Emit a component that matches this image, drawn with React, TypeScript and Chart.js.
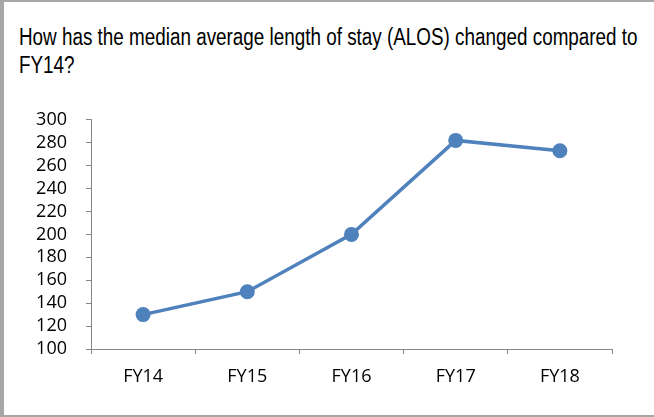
import React, { useEffect, useRef } from "react";
import { Chart, registerables } from "chart.js";

Chart.register(...registerables);

const title = ["How has the median average length of stay (ALOS) changed compared to", "FY14?"];
const categories = ["FY14", "FY15", "FY16", "FY17", "FY18"];
const alosValues = [130, 150, 200, 282, 273];
const yMin = 100;
const yMax = 300;
const yStep = 20;

export default function App() {
  const ref = useRef<HTMLCanvasElement | null>(null);

  useEffect(() => {
    document.body.style.margin = "0";
    if (!ref.current) return;
    const chart = new Chart(ref.current, {
      type: "line",
      data: {
        labels: categories,
        datasets: [
          {
            data: alosValues,
            borderColor: "#4f81bd",
            backgroundColor: "#4f81bd",
            borderWidth: 3.5,
            pointRadius: 7.5,
            pointHoverRadius: 7.5,
            pointBackgroundColor: "#4f81bd",
            pointBorderColor: "#4f81bd",
            pointBorderWidth: 0,
            tension: 0,
          },
        ],
      },
      options: {
        animation: false,
        responsive: false,
        maintainAspectRatio: false,
        layout: { padding: { top: 0, right: 28, left: 0, bottom: 0 } },
        plugins: { legend: { display: false }, tooltip: { enabled: false }, title: { display: false } },
        scales: {
          x: {
            type: "category",
            offset: true,
            grid: {
              offset: true,
              drawOnChartArea: false,
              drawTicks: true,
              tickLength: 5,
              color: "#868686",
            },
            border: { color: "#868686", width: 1 },
            ticks: {
              color: "#000000",
              font: { family: "'Open Sans'", size: 18 },
              padding: 12,
              maxRotation: 0,
              autoSkip: false,
            },
            afterFit: (scale: any) => {
              scale.height = 46;
            },
          },
          y: {
            min: yMin,
            max: yMax,
            grid: {
              drawOnChartArea: false,
              drawTicks: true,
              tickLength: 5,
              color: "#868686",
            },
            border: { color: "#868686", width: 1 },
            ticks: {
              stepSize: yStep,
              autoSkip: false,
              color: "#000000",
              font: { family: "'Open Sans'", size: 18 },
              padding: 19,
            },
            afterFit: (scale: any) => {
              scale.width = 71;
            },
          },
        },
      },
    });
    return () => chart.destroy();
  }, []);

  return (
    <div
      style={{
        position: "fixed",
        left: 0,
        top: 0,
        width: 654,
        height: 417,
        background: "#ffffff",
        boxSizing: "border-box",
        borderLeft: "4px solid #a6a6a6",
        borderTop: "2px solid #a6a6a6",
        borderBottom: "2px solid #a6a6a6",
        borderRight: "none",
        overflow: "hidden",
      }}
    >
      <div
        style={{
          position: "absolute",
          left: 15,
          top: 21,
          fontFamily: "'Liberation Sans', Arial, sans-serif",
          fontSize: 23,
          lineHeight: "28px",
          color: "#000000",
          whiteSpace: "nowrap",
          transform: "scaleX(0.82)",
          transformOrigin: "left top",
        }}
      >
        {title.map((t, i) => (
          <div key={i}>{t}</div>
        ))}
      </div>
      <canvas
        ref={ref}
        width={620}
        height={305}
        style={{ position: "absolute", left: 16, top: 88, width: 620, height: 305 }}
      />
    </div>
  );
}
